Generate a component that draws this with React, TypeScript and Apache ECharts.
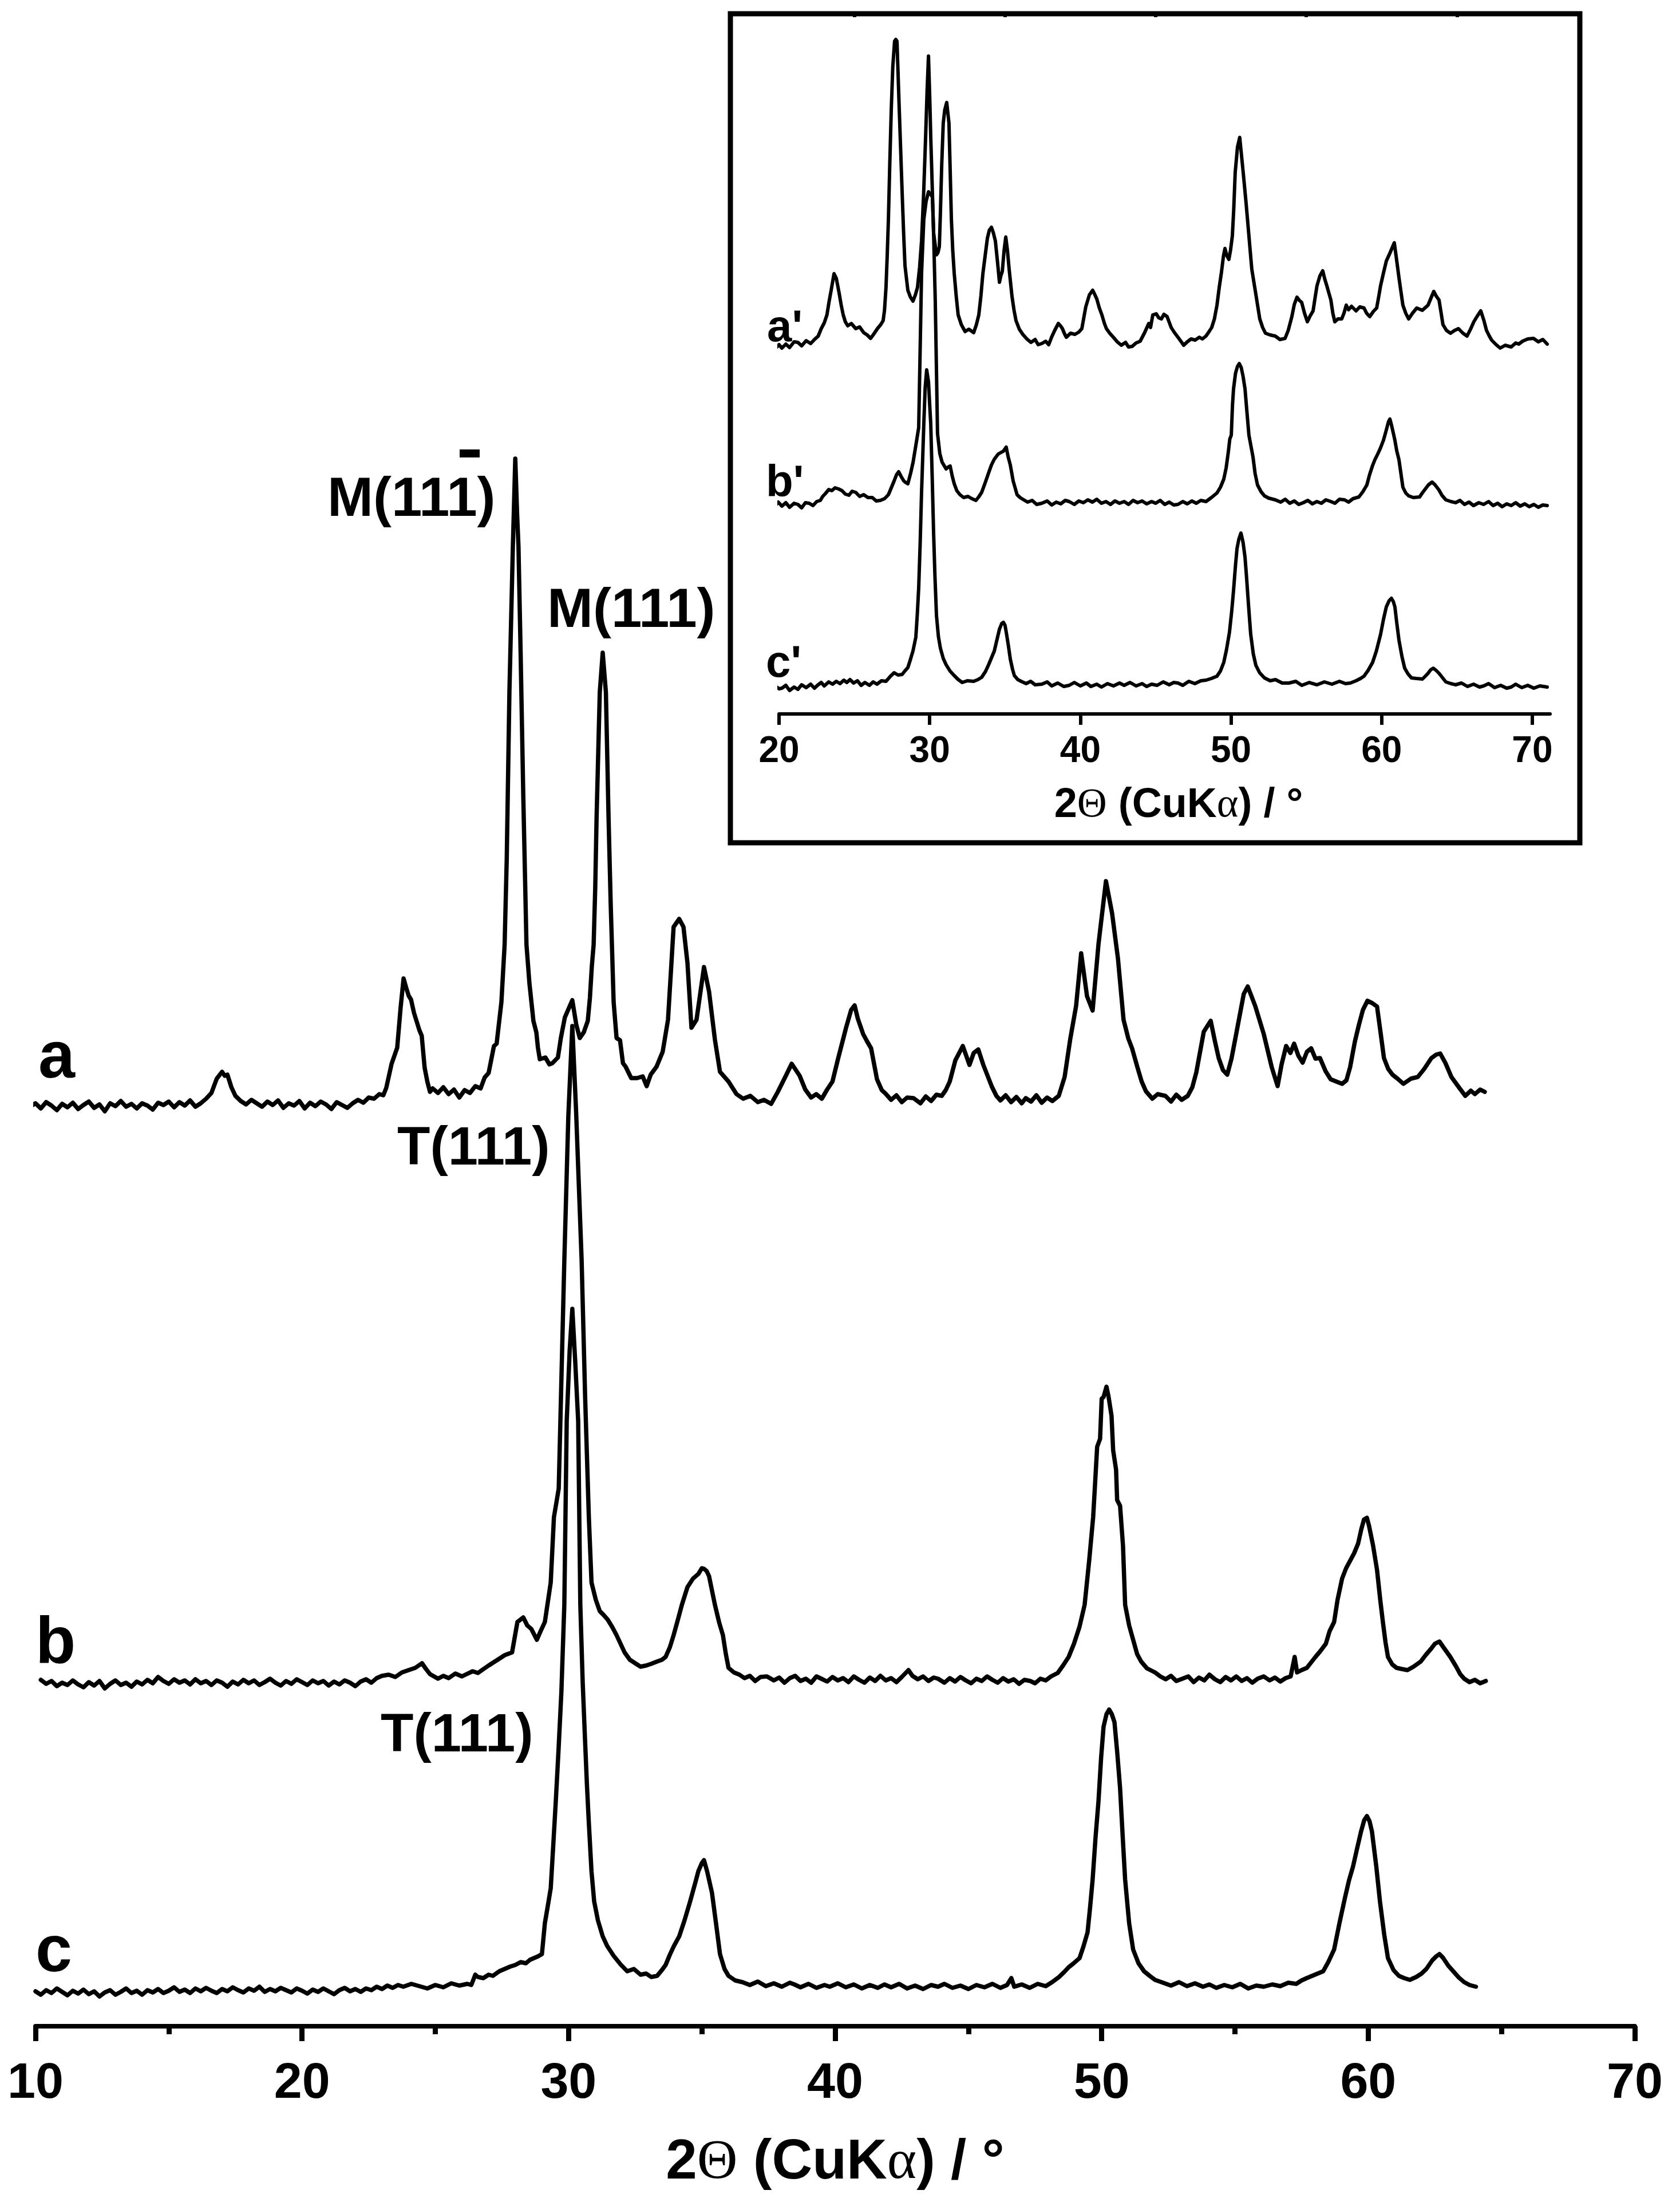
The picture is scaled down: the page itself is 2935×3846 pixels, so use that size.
import React, { useEffect, useRef } from "react";
import * as echarts from "echarts";

// ---------- axis ticks ----------
const mainTickValues = [10, 20, 30, 40, 50, 60, 70];
const insetTickValues = [20, 30, 40, 50, 60, 70];
const insetMinorTickValues = [25, 35, 45, 55, 65];

// ---------- main panel: 2θ (deg) vs intensity (a.u., stacked with offsets) ----------
const seriesA: number[][] = [
  [9.65, 1618], [9.8, 1606], [10.0, 1612], [10.2, 1603], [10.4, 1614], [10.6, 1608], [10.8, 1600], [11.0, 1611], [11.2, 1605], [11.4, 1613],
  [11.6, 1602], [11.8, 1609], [12.0, 1615], [12.2, 1604], [12.4, 1610], [12.6, 1598], [12.8, 1612], [13.0, 1607], [13.2, 1616], [13.4, 1606],
  [13.6, 1611], [13.8, 1603], [14.0, 1612], [14.2, 1608], [14.4, 1601], [14.6, 1613], [14.8, 1609], [15.0, 1615], [15.2, 1605], [15.4, 1614],
  [15.6, 1608], [15.8, 1617], [16.0, 1606], [16.2, 1612], [16.4, 1620], [16.6, 1630], [16.8, 1655], [17.0, 1667], [17.1, 1660], [17.2, 1662],
  [17.35, 1640], [17.5, 1625], [17.7, 1616], [17.9, 1610], [18.1, 1618], [18.3, 1612], [18.5, 1606], [18.7, 1615], [18.9, 1609], [19.1, 1617],
  [19.3, 1604], [19.5, 1612], [19.7, 1608], [19.9, 1616], [20.1, 1603], [20.3, 1613], [20.5, 1607], [20.7, 1615], [20.9, 1610], [21.1, 1602],
  [21.3, 1614], [21.5, 1609], [21.7, 1604], [21.9, 1612], [22.1, 1618], [22.3, 1613], [22.5, 1622], [22.7, 1620], [22.9, 1628], [23.05, 1626],
  [23.16, 1639], [23.36, 1681], [23.57, 1709], [23.7, 1780], [23.81, 1830], [23.9, 1815], [24.0, 1800], [24.09, 1793], [24.2, 1770], [24.28, 1758],
  [24.4, 1740], [24.49, 1730], [24.6, 1674], [24.7, 1650], [24.8, 1632], [24.9, 1638], [25.1, 1630], [25.3, 1640], [25.5, 1628], [25.7, 1636],
  [25.9, 1622], [26.1, 1635], [26.3, 1630], [26.5, 1642], [26.7, 1638], [26.85, 1657], [27.0, 1665], [27.2, 1712], [27.3, 1716], [27.48, 1789],
  [27.6, 1889], [27.68, 2039], [27.78, 2330], [27.91, 2585], [28.0, 2738], [28.07, 2640], [28.12, 2585], [28.2, 2400], [28.3, 2150], [28.42, 1889],
  [28.53, 1822], [28.68, 1756], [28.79, 1736], [28.85, 1709], [28.92, 1689], [29.13, 1692], [29.28, 1680], [29.39, 1682], [29.6, 1692], [29.71, 1726],
  [29.86, 1762], [29.99, 1776], [30.14, 1792], [30.29, 1749], [30.42, 1726], [30.57, 1736], [30.72, 1756], [30.8, 1796], [30.87, 1850], [30.94, 1889],
  [31.0, 1989], [31.05, 2110], [31.17, 2330], [31.28, 2399], [31.4, 2330], [31.5, 2110], [31.58, 1960], [31.69, 1789], [31.8, 1726], [31.93, 1722],
  [32.04, 1682], [32.14, 1676], [32.35, 1656], [32.57, 1656], [32.78, 1659], [32.93, 1642], [33.08, 1662], [33.3, 1676], [33.53, 1702], [33.73, 1758],
  [33.94, 1920], [34.15, 1934], [34.31, 1920], [34.46, 1857], [34.61, 1744], [34.8, 1758], [35.08, 1850], [35.27, 1807], [35.49, 1723], [35.68, 1667],
  [36.0, 1650], [36.3, 1628], [36.55, 1620], [36.82, 1625], [37.1, 1614], [37.33, 1618], [37.6, 1611], [37.85, 1632], [38.15, 1660], [38.37, 1681],
  [38.5, 1672], [38.67, 1660], [38.88, 1636], [39.1, 1622], [39.29, 1628], [39.5, 1620], [39.7, 1636], [39.9, 1650], [40.1, 1688], [40.41, 1744],
  [40.6, 1775], [40.73, 1783], [40.85, 1760], [41.05, 1733], [41.2, 1720], [41.35, 1708], [41.57, 1654], [41.75, 1635], [41.89, 1629], [42.1, 1618],
  [42.3, 1626], [42.5, 1614], [42.7, 1622], [42.94, 1621], [43.2, 1612], [43.4, 1624], [43.6, 1616], [43.8, 1627], [44.0, 1625], [44.15, 1635],
  [44.3, 1650], [44.51, 1687], [44.79, 1712], [45.04, 1679], [45.2, 1700], [45.37, 1706], [45.56, 1679], [45.88, 1641], [46.05, 1625], [46.2, 1617],
  [46.4, 1626], [46.6, 1614], [46.8, 1623], [47.0, 1612], [47.15, 1621], [47.35, 1615], [47.55, 1626], [47.75, 1613], [47.95, 1622], [48.15, 1616],
  [48.39, 1625], [48.61, 1658], [48.82, 1724], [49.04, 1782], [49.23, 1874], [49.45, 1799], [49.66, 1774], [49.88, 1890], [50.16, 2000], [50.39, 1944],
  [50.61, 1865], [50.82, 1758], [51.0, 1725], [51.14, 1708], [51.34, 1675], [51.5, 1650], [51.66, 1633], [51.9, 1620], [52.1, 1628], [52.39, 1625],
  [52.6, 1615], [52.8, 1627], [53.0, 1618], [53.23, 1625], [53.4, 1640], [53.55, 1666], [53.83, 1737], [54.09, 1756], [54.25, 1720], [54.39, 1691],
  [54.55, 1670], [54.71, 1662], [54.87, 1690], [55.03, 1729], [55.33, 1803], [55.48, 1816], [55.76, 1782], [56.08, 1733], [56.38, 1675], [56.6, 1642],
  [56.75, 1680], [56.92, 1712], [57.08, 1700], [57.22, 1716], [57.38, 1695], [57.54, 1683], [57.7, 1702], [57.86, 1708], [58.02, 1690], [58.19, 1691],
  [58.4, 1668], [58.59, 1654], [58.8, 1650], [59.02, 1646], [59.18, 1652], [59.32, 1675], [59.5, 1720], [59.65, 1749], [59.8, 1775], [59.97, 1791],
  [60.15, 1787], [60.33, 1781], [60.45, 1740], [60.59, 1691], [60.75, 1672], [60.91, 1662], [61.1, 1655], [61.32, 1646], [61.6, 1655], [61.86, 1658],
  [62.1, 1672], [62.37, 1691], [62.55, 1697], [62.7, 1699], [62.9, 1682], [63.12, 1658], [63.4, 1640], [63.64, 1625], [63.85, 1634], [64.0, 1628],
  [64.2, 1636], [64.37, 1632],
];

const seriesB: number[][] = [
  [10.2, 605], [10.4, 598], [10.6, 603], [10.8, 594], [11.0, 600], [11.2, 596], [11.4, 604], [11.6, 597], [11.8, 592], [12.0, 601],
  [12.2, 595], [12.4, 603], [12.6, 590], [12.8, 598], [13.0, 604], [13.2, 596], [13.4, 600], [13.6, 593], [13.8, 602], [14.0, 597],
  [14.2, 605], [14.4, 599], [14.6, 610], [14.8, 603], [15.0, 598], [15.2, 606], [15.4, 600], [15.6, 604], [15.8, 597], [16.0, 606],
  [16.2, 599], [16.4, 603], [16.6, 596], [16.8, 604], [17.0, 600], [17.2, 593], [17.4, 602], [17.6, 597], [17.8, 605], [18.0, 599],
  [18.2, 604], [18.4, 596], [18.6, 601], [18.8, 607], [19.0, 600], [19.2, 595], [19.4, 603], [19.6, 598], [19.8, 606], [20.0, 601],
  [20.2, 596], [20.4, 604], [20.6, 599], [20.8, 603], [21.0, 595], [21.2, 602], [21.4, 597], [21.6, 604], [21.8, 600], [22.0, 594],
  [22.2, 602], [22.4, 606], [22.6, 600], [22.8, 608], [23.0, 612], [23.25, 614], [23.5, 610], [23.75, 618], [24.0, 622], [24.25, 626],
  [24.5, 634], [24.65, 624], [24.8, 615], [25.1, 607], [25.3, 612], [25.5, 608], [25.75, 616], [26.0, 611], [26.13, 614], [26.4, 620],
  [26.6, 617], [26.75, 622], [27.0, 630], [27.2, 636], [27.37, 641], [27.6, 648], [27.88, 653], [28.08, 706], [28.3, 714], [28.45, 700],
  [28.6, 694], [28.81, 675], [28.95, 690], [29.11, 706], [29.33, 775], [29.45, 889], [29.63, 939], [29.84, 1337], [29.99, 1589], [30.14, 1747],
  [30.28, 1600], [30.4, 1450], [30.49, 1337], [30.62, 1100], [30.76, 889], [30.86, 775], [31.02, 745], [31.17, 725], [31.32, 718], [31.47, 710],
  [31.64, 697], [31.8, 683], [31.95, 668], [32.1, 653], [32.3, 640], [32.5, 634], [32.7, 628], [32.91, 630], [33.1, 633], [33.32, 637],
  [33.5, 640], [33.64, 645], [33.8, 662], [33.94, 683], [34.1, 710], [34.25, 736], [34.46, 767], [34.67, 782], [34.87, 790], [35.0, 800],
  [35.08, 799], [35.18, 795], [35.27, 786], [35.49, 736], [35.65, 705], [35.79, 683], [35.9, 650], [36.0, 626], [36.2, 618], [36.41, 614],
  [36.6, 608], [36.8, 612], [37.0, 603], [37.2, 610], [37.44, 611], [37.7, 604], [37.9, 609], [38.1, 600], [38.3, 608], [38.5, 612],
  [38.7, 603], [38.9, 607], [39.1, 600], [39.3, 611], [39.48, 607], [39.7, 602], [39.9, 610], [40.1, 604], [40.3, 608], [40.5, 601],
  [40.7, 611], [40.9, 605], [41.1, 600], [41.3, 609], [41.5, 603], [41.7, 612], [41.9, 604], [42.1, 608], [42.3, 601], [42.5, 610],
  [42.75, 622], [42.9, 612], [43.1, 606], [43.3, 611], [43.5, 603], [43.7, 609], [43.86, 607], [44.1, 600], [44.3, 608], [44.5, 602],
  [44.7, 610], [44.9, 604], [45.1, 599], [45.3, 607], [45.5, 603], [45.7, 611], [45.9, 605], [46.1, 600], [46.3, 608], [46.5, 602],
  [46.7, 606], [46.9, 598], [47.1, 605], [47.32, 603], [47.5, 599], [47.7, 607], [47.9, 604], [48.1, 611], [48.35, 617], [48.55, 630],
  [48.76, 645], [48.96, 668], [49.17, 698], [49.36, 736], [49.53, 813], [49.68, 889], [49.75, 946], [49.83, 1012], [49.94, 1026], [50.0, 1096],
  [50.07, 1099], [50.18, 1117], [50.26, 1099], [50.37, 1066], [50.43, 1006], [50.54, 972], [50.58, 919], [50.69, 909], [50.8, 839], [50.88, 736],
  [51.03, 700], [51.18, 675], [51.33, 650], [51.48, 637], [51.7, 625], [52.0, 618], [52.2, 611], [52.4, 606], [52.6, 612], [52.8, 603],
  [53.03, 607], [53.25, 611], [53.45, 601], [53.65, 609], [53.85, 604], [54.04, 614], [54.25, 606], [54.45, 601], [54.65, 610], [54.85, 604],
  [55.05, 611], [55.25, 603], [55.45, 608], [55.65, 600], [55.85, 607], [56.08, 611], [56.3, 604], [56.5, 609], [56.7, 602], [56.9, 608],
  [57.09, 611], [57.24, 645], [57.33, 618], [57.5, 622], [57.7, 626], [57.85, 635], [58.02, 645], [58.2, 655], [58.41, 668], [58.55, 690],
  [58.72, 706], [58.85, 745], [59.02, 782], [59.17, 800], [59.32, 813], [59.47, 826], [59.62, 843], [59.74, 868], [59.84, 885], [59.95, 888],
  [60.03, 874], [60.18, 840], [60.33, 797], [60.45, 745], [60.55, 706], [60.65, 670], [60.74, 645], [60.9, 632], [61.06, 626], [61.25, 624],
  [61.47, 622], [61.7, 628], [61.97, 637], [62.15, 648], [62.37, 660], [62.5, 668], [62.67, 672], [62.85, 660], [63.08, 645], [63.3, 628],
  [63.45, 615], [63.6, 607], [63.8, 601], [64.0, 605], [64.2, 599], [64.41, 603],
];

const seriesC: number[][] = [
  [10.0, 61], [10.2, 55], [10.4, 63], [10.6, 58], [10.8, 66], [11.0, 60], [11.2, 54], [11.4, 62], [11.6, 57], [11.8, 64],
  [12.0, 56], [12.2, 61], [12.4, 52], [12.6, 59], [12.8, 63], [13.0, 55], [13.2, 60], [13.4, 66], [13.6, 58], [13.8, 62],
  [14.0, 55], [14.2, 63], [14.4, 59], [14.6, 65], [14.8, 58], [15.0, 62], [15.2, 68], [15.4, 60], [15.6, 64], [15.8, 58],
  [16.0, 66], [16.2, 61], [16.4, 67], [16.6, 62], [16.8, 58], [17.0, 65], [17.2, 61], [17.4, 68], [17.6, 63], [17.8, 59],
  [18.0, 66], [18.2, 62], [18.4, 69], [18.6, 60], [18.8, 65], [19.0, 61], [19.2, 67], [19.4, 63], [19.6, 59], [19.8, 66],
  [20.0, 62], [20.2, 57], [20.4, 64], [20.6, 60], [20.8, 66], [21.0, 61], [21.2, 56], [21.4, 63], [21.6, 67], [21.8, 61],
  [22.0, 65], [22.2, 60], [22.4, 66], [22.6, 63], [22.8, 69], [23.0, 65], [23.2, 71], [23.4, 67], [23.6, 72], [23.8, 69],
  [24.1, 74], [24.4, 70], [24.7, 66], [25.0, 72], [25.3, 68], [25.6, 75], [25.9, 71], [26.2, 74], [26.35, 72], [26.5, 90],
  [26.6, 86], [26.8, 84], [27.0, 90], [27.16, 88], [27.4, 96], [27.6, 100], [27.8, 104], [28.0, 107], [28.2, 112], [28.4, 110],
  [28.55, 116], [28.7, 119], [28.85, 122], [29.0, 126], [29.11, 180], [29.22, 210], [29.33, 241], [29.43, 320], [29.52, 393], [29.62, 480],
  [29.73, 584], [29.84, 736], [29.93, 1057], [30.04, 1180], [30.14, 1253], [30.25, 1160], [30.36, 1057], [30.44, 736], [30.53, 600], [30.61, 508],
  [30.69, 420], [30.76, 355], [30.86, 270], [30.96, 218], [31.1, 185], [31.28, 157], [31.45, 140], [31.69, 123], [31.95, 108], [32.2, 96],
  [32.45, 100], [32.7, 90], [32.91, 92], [33.1, 86], [33.32, 88], [33.5, 98], [33.64, 107], [33.8, 125], [33.95, 140], [34.15, 157],
  [34.35, 185], [34.56, 218], [34.75, 250], [34.87, 271], [35.0, 285], [35.08, 290], [35.2, 270], [35.38, 233], [35.53, 180], [35.68, 126],
  [35.85, 100], [36.0, 88], [36.25, 80], [36.52, 77], [36.8, 72], [37.1, 78], [37.4, 70], [37.7, 75], [38.0, 69], [38.3, 76],
  [38.47, 73], [38.7, 68], [39.0, 74], [39.3, 67], [39.6, 72], [39.8, 69], [40.1, 75], [40.4, 68], [40.7, 73], [41.0, 66],
  [41.3, 72], [41.6, 67], [41.85, 73], [42.1, 68], [42.4, 74], [42.7, 66], [43.0, 71], [43.3, 65], [43.6, 72], [43.86, 69],
  [44.1, 74], [44.4, 67], [44.7, 71], [45.0, 65], [45.3, 72], [45.6, 68], [45.9, 74], [46.2, 67], [46.45, 72], [46.61, 84],
  [46.72, 69], [47.0, 73], [47.3, 67], [47.6, 74], [47.9, 70], [48.14, 77], [48.4, 86], [48.6, 95], [48.76, 103], [48.95, 110],
  [49.17, 119], [49.32, 140], [49.47, 164], [49.57, 210], [49.66, 256], [49.77, 330], [49.88, 393], [49.98, 470], [50.07, 523], [50.18, 545],
  [50.28, 553], [50.38, 545], [50.48, 531], [50.58, 480], [50.69, 416], [50.79, 330], [50.88, 256], [51.03, 180], [51.18, 134], [51.38, 110],
  [51.59, 96], [51.8, 88], [52.0, 81], [52.3, 76], [52.6, 71], [52.9, 77], [53.2, 70], [53.5, 75], [53.8, 69], [54.04, 73],
  [54.3, 67], [54.6, 72], [54.9, 68], [55.2, 74], [55.5, 66], [55.8, 71], [56.08, 69], [56.4, 73], [56.7, 70], [57.0, 76],
  [57.3, 74], [57.5, 80], [57.69, 84], [58.0, 90], [58.31, 96], [58.5, 112], [58.72, 134], [58.92, 180], [59.13, 225], [59.28, 255],
  [59.43, 279], [59.58, 310], [59.73, 340], [59.85, 360], [59.95, 367], [60.05, 358], [60.14, 340], [60.3, 280], [60.44, 218], [60.6, 160],
  [60.74, 119], [60.95, 98], [61.15, 88], [61.35, 84], [61.56, 81], [61.8, 86], [62.0, 92], [62.18, 100], [62.4, 115], [62.55, 122],
  [62.67, 126], [62.8, 120], [63.0, 106], [63.19, 96], [63.4, 85], [63.6, 77], [63.8, 72], [64.04, 69],
];

// ---------- inset panel ----------
const insetA: number[][] = [
  [19.28, 642], [19.5, 648], [19.75, 638], [20.0, 645], [20.19, 639], [20.45, 646], [20.7, 640], [21.0, 650], [21.25, 649], [21.5, 643],
  [21.8, 652], [22.1, 647], [22.35, 654], [22.6, 660], [22.8, 673], [23.0, 683], [23.18, 697], [23.32, 720], [23.46, 740], [23.65, 769],
  [23.8, 761], [23.99, 735], [24.12, 715], [24.26, 697], [24.4, 685], [24.56, 678], [24.8, 682], [25.09, 673], [25.35, 676], [25.62, 666],
  [25.85, 662], [26.08, 656], [26.3, 664], [26.53, 673], [26.75, 680], [26.91, 687], [27.0, 705], [27.1, 745], [27.18, 800], [27.26, 864],
  [27.35, 960], [27.45, 1056], [27.55, 1130], [27.67, 1175], [27.75, 1178], [27.83, 1175], [27.98, 1056], [28.08, 980], [28.17, 912], [28.27, 840],
  [28.36, 783], [28.55, 740], [28.72, 728], [28.89, 721], [29.05, 732], [29.19, 745], [29.33, 780], [29.46, 826], [29.6, 910], [29.73, 1008],
  [29.83, 1090], [29.92, 1149], [30.0, 1080], [30.07, 1008], [30.17, 920], [30.26, 840], [30.45, 802], [30.55, 806], [30.64, 816], [30.71, 874],
  [30.8, 960], [30.9, 1032], [31.0, 1055], [31.13, 1068], [31.28, 1032], [31.36, 950], [31.44, 864], [31.53, 810], [31.63, 769], [31.76, 730],
  [31.89, 697], [32.1, 680], [32.35, 668], [32.6, 672], [32.92, 666], [33.1, 680], [33.26, 697], [33.4, 730], [33.53, 769], [33.68, 800],
  [33.83, 831], [33.96, 845], [34.1, 850], [34.23, 840], [34.36, 826], [34.5, 790], [34.63, 754], [34.72, 765], [34.82, 773], [34.94, 810],
  [35.05, 833], [35.16, 810], [35.27, 778], [35.46, 730], [35.6, 705], [35.73, 687], [35.95, 672], [36.18, 663], [36.45, 655], [36.72, 649],
  [37.0, 654], [37.2, 645], [37.44, 647], [37.7, 651], [37.9, 645], [38.09, 658], [38.3, 670], [38.54, 682], [38.68, 678], [38.81, 673],
  [38.95, 664], [39.07, 658], [39.35, 665], [39.64, 663], [39.9, 667], [40.1, 673], [40.36, 711], [40.6, 732], [40.82, 740], [40.95, 733],
  [41.09, 725], [41.25, 710], [41.43, 697], [41.6, 682], [41.73, 673], [41.95, 665], [42.19, 658], [42.45, 650], [42.72, 644], [43.0, 649],
  [43.2, 641], [43.44, 642], [43.7, 648], [43.97, 651], [44.25, 665], [44.54, 682], [44.66, 675], [44.81, 697], [45.04, 699], [45.2, 692],
  [45.38, 690], [45.55, 698], [45.76, 694], [46.03, 675], [46.25, 666], [46.48, 658], [46.7, 650], [46.86, 644], [47.1, 650], [47.35, 655],
  [47.62, 653], [47.9, 658], [48.1, 655], [48.34, 660], [48.55, 668], [48.72, 675], [48.9, 690], [49.07, 714], [49.22, 745], [49.37, 772],
  [49.5, 800], [49.6, 813], [49.73, 800], [49.86, 794], [49.97, 810], [50.09, 835], [50.18, 880], [50.28, 946], [50.43, 990], [50.58, 1007],
  [50.7, 975], [50.81, 946], [51.0, 893], [51.19, 835], [51.38, 777], [51.65, 733], [51.91, 690], [52.1, 675], [52.29, 665], [52.6, 662],
  [52.94, 660], [53.25, 654], [53.59, 656], [53.8, 670], [54.04, 694], [54.2, 715], [54.38, 728], [54.55, 722], [54.69, 719], [54.88, 700],
  [55.07, 685], [55.25, 695], [55.45, 704], [55.6, 730], [55.71, 748], [55.9, 765], [56.09, 774], [56.22, 760], [56.36, 748], [56.5, 735],
  [56.63, 723], [56.76, 700], [56.89, 685], [57.1, 690], [57.35, 690], [57.5, 700], [57.65, 714], [57.8, 706], [58.0, 712], [58.3, 704],
  [58.55, 711], [58.83, 709], [59.0, 700], [59.21, 694], [59.45, 703], [59.67, 709], [59.8, 728], [59.93, 748], [60.12, 770], [60.31, 791],
  [60.55, 805], [60.84, 823], [61.0, 792], [61.15, 762], [61.28, 738], [61.41, 714], [61.6, 700], [61.79, 690], [62.05, 700], [62.33, 709],
  [62.7, 705], [63.08, 714], [63.3, 728], [63.46, 738], [63.62, 730], [63.81, 723], [63.95, 700], [64.07, 680], [64.3, 670], [64.57, 665],
  [64.85, 670], [65.1, 673], [65.4, 665], [65.67, 660], [65.9, 672], [66.12, 685], [66.35, 695], [66.58, 704], [66.78, 688], [66.96, 670],
  [67.15, 660], [67.3, 653], [67.6, 645], [67.87, 639], [68.2, 644], [68.6, 641], [68.9, 648], [69.1, 646], [69.35, 651], [69.7, 655],
  [70.08, 656], [70.4, 650], [70.7, 654], [70.99, 646],
];

const insetB: number[][] = [
  [19.47, 368], [19.7, 362], [19.95, 370], [20.19, 363], [20.45, 369], [20.7, 361], [21.0, 368], [21.25, 366], [21.5, 360], [21.75, 369],
  [22.0, 368], [22.25, 364], [22.5, 371], [22.74, 373], [22.9, 380], [23.08, 385], [23.3, 392], [23.5, 390], [23.72, 395], [23.95, 393],
  [24.18, 390], [24.4, 384], [24.64, 382], [24.85, 389], [25.09, 387], [25.35, 380], [25.62, 383], [25.9, 378], [26.19, 378], [26.45, 372],
  [26.72, 373], [27.0, 376], [27.26, 383], [27.45, 395], [27.64, 407], [27.8, 418], [27.94, 423], [28.1, 415], [28.28, 407], [28.42, 404],
  [28.55, 402], [28.74, 421], [28.9, 440], [29.08, 469], [29.27, 500], [29.46, 769], [29.61, 864], [29.76, 895], [29.92, 912], [30.05, 908],
  [30.18, 903], [30.26, 840], [30.37, 721], [30.45, 600], [30.52, 490], [30.67, 455], [30.82, 440], [31.09, 428], [31.22, 431], [31.36, 433],
  [31.5, 415], [31.63, 402], [31.8, 390], [32.01, 383], [32.25, 378], [32.54, 380], [32.8, 376], [33.07, 373], [33.25, 379], [33.45, 387],
  [33.7, 405], [33.91, 421], [34.1, 435], [34.29, 445], [34.55, 454], [34.75, 457], [34.89, 459], [35.08, 466], [35.2, 450], [35.35, 435],
  [35.54, 407], [35.8, 383], [36.0, 378], [36.18, 375], [36.5, 370], [36.8, 373], [37.1, 366], [37.44, 368], [37.8, 372], [38.1, 365],
  [38.4, 370], [38.7, 367], [39.0, 373], [39.26, 371], [39.6, 366], [39.9, 372], [40.2, 369], [40.5, 374], [40.8, 370], [41.09, 375],
  [41.4, 368], [41.7, 371], [42.0, 366], [42.3, 372], [42.6, 368], [42.91, 371], [43.2, 366], [43.5, 373], [43.8, 369], [44.1, 372],
  [44.4, 367], [44.73, 371], [45.0, 368], [45.3, 373], [45.6, 366], [45.9, 370], [46.2, 365], [46.48, 366], [46.8, 371], [47.1, 367],
  [47.4, 372], [47.7, 368], [48.0, 373], [48.34, 371], [48.7, 378], [49.07, 386], [49.3, 396], [49.52, 410], [49.68, 430], [49.83, 459],
  [49.92, 480], [50.02, 487], [50.1, 540], [50.17, 568], [50.3, 595], [50.43, 607], [50.55, 612], [50.68, 605], [50.8, 590], [50.93, 568],
  [51.06, 527], [51.19, 487], [51.31, 470], [51.46, 449], [51.6, 420], [51.76, 400], [52.0, 388], [52.22, 381], [52.5, 377], [52.94, 374],
  [53.3, 370], [53.6, 375], [53.9, 368], [54.2, 372], [54.5, 366], [54.8, 369], [55.1, 373], [55.4, 367], [55.7, 371], [56.0, 368],
  [56.3, 374], [56.63, 371], [56.9, 368], [57.2, 375], [57.54, 374], [57.8, 370], [58.1, 376], [58.49, 379], [58.75, 388], [59.02, 400],
  [59.2, 418], [59.4, 434], [59.55, 444], [59.74, 454], [59.93, 465], [60.12, 478], [60.3, 495], [60.45, 510], [60.55, 515], [60.65, 505],
  [60.78, 490], [60.88, 478], [61.0, 460], [61.15, 444], [61.28, 420], [61.41, 396], [61.6, 386], [61.79, 381], [62.1, 378], [62.52, 379],
  [62.7, 386], [62.9, 393], [63.1, 400], [63.35, 405], [63.55, 400], [63.81, 391], [64.0, 382], [64.26, 374], [64.6, 371], [64.91, 369],
  [65.2, 373], [65.5, 366], [65.8, 370], [66.1, 364], [66.45, 369], [66.77, 366], [67.1, 371], [67.4, 364], [67.7, 368], [68.0, 362],
  [68.3, 367], [68.6, 364], [68.9, 369], [69.2, 363], [69.5, 367], [69.8, 362], [70.1, 366], [70.4, 361], [70.7, 365], [70.99, 364],
];

const insetC: number[][] = [
  [19.28, 48], [19.5, 42], [19.75, 49], [20.0, 44], [20.19, 45], [20.45, 50], [20.7, 41], [21.0, 47], [21.25, 43], [21.5, 51],
  [21.8, 46], [22.1, 52], [22.35, 45], [22.55, 50], [22.8, 55], [23.0, 49], [23.3, 56], [23.55, 52], [23.8, 57], [24.05, 53],
  [24.3, 59], [24.5, 55], [24.71, 60], [24.95, 54], [25.2, 58], [25.45, 50], [25.7, 55], [26.0, 50], [26.25, 56], [26.5, 52],
  [26.8, 58], [27.1, 57], [27.4, 66], [27.64, 72], [27.9, 68], [28.17, 69], [28.35, 75], [28.55, 81], [28.72, 95], [28.89, 110],
  [29.08, 134], [29.18, 175], [29.27, 220], [29.37, 300], [29.46, 387], [29.54, 450], [29.61, 507], [29.7, 570], [29.8, 601], [29.92, 580],
  [30.0, 540], [30.07, 507], [30.17, 410], [30.26, 316], [30.35, 240], [30.45, 172], [30.58, 135], [30.71, 115], [30.9, 97], [31.09, 86],
  [31.35, 75], [31.63, 67], [31.9, 60], [32.16, 55], [32.5, 58], [32.92, 57], [33.2, 60], [33.45, 64], [33.7, 74], [33.91, 86],
  [34.1, 98], [34.29, 110], [34.45, 128], [34.63, 148], [34.78, 158], [34.89, 160], [35.0, 155], [35.08, 143], [35.22, 120], [35.35, 96],
  [35.5, 78], [35.62, 67], [35.85, 60], [36.07, 57], [36.4, 53], [36.7, 57], [37.0, 51], [37.44, 52], [37.8, 56], [38.1, 49],
  [38.5, 54], [38.9, 48], [39.26, 50], [39.6, 55], [40.0, 49], [40.4, 54], [40.7, 48], [41.09, 52], [41.4, 47], [41.8, 53],
  [42.2, 49], [42.6, 54], [42.91, 50], [43.3, 55], [43.7, 49], [44.1, 53], [44.4, 48], [44.73, 52], [45.1, 50], [45.5, 56],
  [45.9, 51], [46.2, 55], [46.48, 54], [46.8, 50], [47.2, 57], [47.6, 53], [48.0, 58], [48.34, 59], [48.7, 62], [49.07, 66],
  [49.3, 75], [49.52, 90], [49.7, 112], [49.9, 143], [50.05, 180], [50.17, 216], [50.3, 260], [50.4, 289], [50.52, 305], [50.66, 316],
  [50.8, 300], [50.93, 274], [51.03, 240], [51.12, 206], [51.22, 170], [51.31, 139], [51.48, 105], [51.65, 85], [51.9, 72], [52.22, 63],
  [52.6, 58], [52.95, 60], [53.4, 54], [53.85, 54], [54.3, 57], [54.7, 50], [55.2, 55], [55.71, 51], [56.2, 56], [56.7, 52],
  [57.2, 57], [57.6, 53], [57.92, 54], [58.3, 58], [58.6, 62], [58.83, 66], [59.1, 76], [59.4, 90], [59.65, 110], [59.93, 139],
  [60.12, 165], [60.31, 187], [60.5, 198], [60.65, 202], [60.78, 196], [60.88, 187], [61.0, 160], [61.15, 129], [61.35, 100], [61.53, 80],
  [61.75, 70], [61.98, 63], [62.3, 62], [62.71, 61], [62.9, 66], [63.08, 71], [63.25, 77], [63.43, 80], [63.62, 76], [63.81, 71],
  [64.05, 63], [64.26, 56], [64.6, 53], [64.91, 51], [65.3, 54], [65.7, 48], [66.1, 52], [66.5, 47], [66.77, 49], [67.1, 53],
  [67.5, 46], [67.9, 50], [68.3, 45], [68.6, 47], [68.9, 52], [69.3, 46], [69.7, 50], [70.1, 45], [70.5, 49], [70.99, 47],
];

const FONT = '"Liberation Sans", Arial, Helvetica, sans-serif';
const SERIF = '"Liberation Serif", "DejaVu Serif", serif';
const AXIS_TITLE = "2{g|Θ} (CuK{g|α}) / °";

function lineSeries(data: number[][], xi: number, yi: number, width: number) {
  return {
    type: "line",
    data,
    xAxisIndex: xi,
    yAxisIndex: yi,
    showSymbol: false,
    symbol: "none",
    clip: false,
    smooth: false,
    lineStyle: { color: "#000", width, join: "round", cap: "round" },
    emphasis: { disabled: true },
    silent: true,
    z: 3,
  };
}

function label(text: string, x: number, y: number, size: number, align = "left") {
  return {
    type: "text",
    z: 10,
    style: {
      text,
      x,
      y,
      fill: "#000",
      fontSize: size,
      fontWeight: "bold",
      fontFamily: FONT,
      align,
      textAlign: align,
      verticalAlign: "middle",
      textVerticalAlign: "middle",
    },
  };
}

export default function App() {
  const ref = useRef<HTMLDivElement>(null);

  useEffect(() => {
    if (!ref.current) return;
    const chart = echarts.init(ref.current, null, { renderer: "svg" });
    const axisLineStyle = { color: "#000", width: 8 };
    const insetLineStyle = { color: "#000", width: 6 };
    const option: any = {
      animation: false,
      backgroundColor: "#fff",
      grid: [
        { left: 62, right: 79, top: 0, bottom: 307, containLabel: false },
        { left: 1361, right: 227, top: 30, bottom: 2599, containLabel: false },
      ],
      xAxis: [
        {
          type: "value",
          gridIndex: 0,
          min: 10,
          max: 70,
          interval: 10,
          axisLine: { show: true, onZero: false, lineStyle: axisLineStyle },
          axisTick: { show: true, length: 26, lineStyle: { color: "#000", width: 9 } },
          minorTick: { show: true, splitNumber: 2, length: 14, lineStyle: { color: "#000", width: 9 } },
          splitLine: { show: false },
          axisLabel: {
            show: true,
            margin: 50,
            fontSize: 88,
            fontWeight: "bold",
            fontFamily: FONT,
            color: "#000",
            formatter: (v: number) => (mainTickValues.indexOf(v) >= 0 ? String(v) : ""),
          },
          name: AXIS_TITLE,
          nameLocation: "middle",
          nameGap: 183,
          nameTextStyle: {
            fontSize: 98,
            fontWeight: "bold",
            fontFamily: FONT,
            color: "#000",
            rich: { g: { fontSize: 98, fontFamily: SERIF, fontWeight: "normal", color: "#000" } },
          },
        },
        {
          type: "value",
          gridIndex: 1,
          min: 20,
          max: 71.18,
          axisLine: { show: true, onZero: false, lineStyle: insetLineStyle },
          axisTick: { show: true, length: 19, customValues: insetTickValues, lineStyle: { color: "#000", width: 6 } },
          splitLine: { show: false },
          axisLabel: {
            show: true,
            customValues: insetTickValues,
            margin: 30,
            fontSize: 64,
            fontWeight: "bold",
            fontFamily: FONT,
            color: "#000",
          },
        },
        {
          type: "value",
          gridIndex: 1,
          min: 20,
          max: 71.18,
          axisLine: { show: false, onZero: false },
          axisTick: { show: true, length: 10, customValues: insetMinorTickValues, lineStyle: { color: "#000", width: 6 } },
          splitLine: { show: false },
          axisLabel: { show: false },
        },
      ],
      yAxis: [
        { type: "value", gridIndex: 0, min: 0, max: 3539, show: false, splitLine: { show: false } },
        { type: "value", gridIndex: 1, min: 0, max: 1217, show: false, splitLine: { show: false } },
      ],
      series: [
        lineSeries(seriesA, 0, 0, 7.5),
        lineSeries(seriesB, 0, 0, 7.5),
        lineSeries(seriesC, 0, 0, 7.5),
        lineSeries(insetA, 1, 1, 6),
        lineSeries(insetB, 1, 1, 6),
        lineSeries(insetC, 1, 1, 6),
      ],
      graphic: [
        {
          type: "rect",
          z: 5,
          shape: { x: 1276, y: 24, width: 1484, height: 1448 },
          style: { fill: "none", stroke: "#000", lineWidth: 9 },
        },
        label("a", 67, 1842, 115),
        label("b", 62, 2865, 115),
        label("c", 62, 3403, 115),
        label("M(111)", 572, 867, 96),
        { type: "rect", z: 10, shape: { x: 803, y: 785, width: 35, height: 14 }, style: { fill: "#000" } },
        label("M(111)", 956, 1061, 96),
        label("T(111)", 694, 2001, 94),
        label("T(111)", 665, 3026, 94),
        label("a'", 1340, 569, 78),
        label("b'", 1338, 840, 78),
        label("c'", 1338, 1155, 78),
        {
          type: "text",
          z: 10,
          style: {
            text: AXIS_TITLE,
            x: 2059,
            y: 1402,
            fill: "#000",
            fontSize: 72,
            fontWeight: "bold",
            fontFamily: FONT,
            align: "center",
            textAlign: "center",
            verticalAlign: "middle",
            textVerticalAlign: "middle",
            rich: { g: { fontSize: 72, fontFamily: SERIF, fontWeight: "normal", fill: "#000" } },
          },
        },
      ],
    };
    chart.setOption(option);
    return () => chart.dispose();
  }, []);

  return (
    <div
      ref={ref}
      style={{ position: "fixed", left: 0, top: 0, width: 2935, height: 3846, background: "#fff" }}
    />
  );
}
